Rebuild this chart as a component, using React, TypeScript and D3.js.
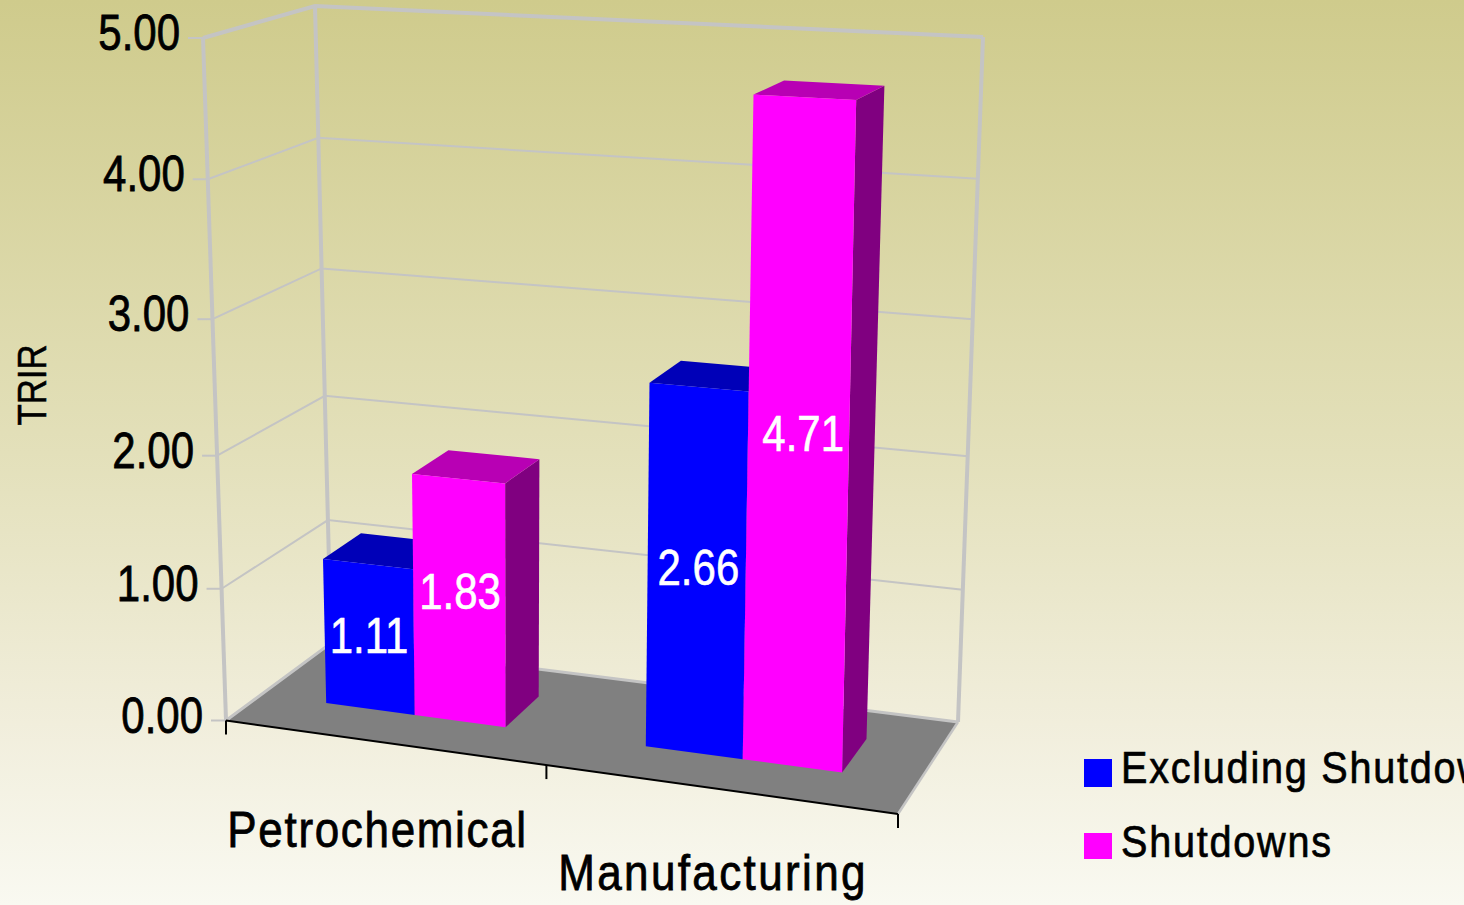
import React from "react";
import * as d3 from "d3";

const categories = ["Petrochemical", "Manufacturing"];
const categoryTracking = [1.9, 2.7];
const categoryDy = [105, 101];
const seriesNames = ["Excluding Shutdowns", "Shutdowns"];
const excludingShutdowns = [1.11, 2.66];
const shutdowns = [1.83, 4.71];
const yTicks = [0, 1, 2, 3, 4, 5];
const yTickLabels = ["0.00", "1.00", "2.00", "3.00", "4.00", "5.00"];
const yTitle = "TRIR";
const seriesValues = [excludingShutdowns, shutdowns];
const frontColors = ["#0000ff", "#ff00ff"];
const topColors = ["#0000b8", "#b800b4"];
const sideColors = ["#000080", "#800080"];
// fine placement of the value labels: [series][category]
const valueLabelDx = [[0, 2], [1, 5]];
const valueLabelDy = [[16, 13], [9, 12]];

const W = 1464;
const H = 905;
const FONT = "'Liberation Sans', sans-serif";

type Pt = [number, number];

// plane homography: unit square (u, w) to a screen quadrilateral
function quad(p00: Pt, p10: Pt, p11: Pt, p01: Pt) {
  const sx = p00[0] - p10[0] + p11[0] - p01[0];
  const sy = p00[1] - p10[1] + p11[1] - p01[1];
  const dx1 = p10[0] - p11[0];
  const dx2 = p01[0] - p11[0];
  const dy1 = p10[1] - p11[1];
  const dy2 = p01[1] - p11[1];
  const det = dx1 * dy2 - dx2 * dy1;
  const g = (sx * dy2 - dx2 * sy) / det;
  const h = (dx1 * sy - sx * dy1) / det;
  const a = p10[0] - p00[0] + g * p10[0];
  const b = p01[0] - p00[0] + h * p01[0];
  const d = p10[1] - p00[1] + g * p10[1];
  const e = p01[1] - p00[1] + h * p01[1];
  return (u: number, w: number): Pt => {
    const den = 1 + g * u + h * w;
    return [(p00[0] + a * u + b * w) / den, (p00[1] + d * u + e * w) / den];
  };
}

const floor = quad([226, 720.5], [898, 814], [958, 722], [331, 643]);
const ceil = quad([203, 38], [911, 73], [983, 37], [315, 6]);
const heightScale = d3
  .scaleLinear()
  .domain(yTicks)
  .range([0, 0.193, 0.388, 0.588, 0.793, 1]);

function project(u: number, value: number, w: number): Pt {
  const t = heightScale(value) as number;
  const a = floor(u, w);
  const b = ceil(u, w);
  return [a[0] + (b[0] - a[0]) * t, a[1] + (b[1] - a[1]) * t];
}

const categoryBand = d3.scaleBand().domain(categories).range([0, 1]);
const seriesBand = d3.scaleBand().domain(seriesNames).range([0.107, 0.393]);
const W_FRONT = 0.32;
const W_BACK = 0.692;

const poly = (pts: Pt[]) => pts.map((p) => p.map((n) => n.toFixed(1)).join(",")).join(" ");
const line = d3.line();

function Label({
  x,
  y,
  anchor = "start",
  size = 50,
  fill = "#000",
  tracking = 0,
  weight = 0.8,
  scale = 0.84,
  children,
}: any) {
  return (
    <text
      transform={`translate(${x},${y}) scale(${scale},1)`}
      textAnchor={anchor}
      fontFamily={FONT}
      fontSize={size}
      fill={fill}
      stroke={fill}
      strokeWidth={weight}
      letterSpacing={tracking}
    >
      {children}
    </text>
  );
}

export default function App() {
  const grid = "#c4c4c4";
  return (
    <svg
      width={W}
      height={H}
      viewBox={`0 0 ${W} ${H}`}
      style={{ position: "fixed", left: 0, top: 0, display: "block" }}
    >
      <defs>
        <linearGradient id="bg" x1="0" y1="0" x2="0" y2="1">
          <stop offset="0" stopColor="#cfcb8c" />
          <stop offset="0.5" stopColor="#e3e0ba" />
          <stop offset="0.8" stopColor="#f1eedc" />
          <stop offset="1" stopColor="#f9f9f1" />
        </linearGradient>
      </defs>
      <rect x={0} y={0} width={W} height={H} fill="url(#bg)" />

      {/* floor */}
      <polygon points={poly([floor(0, 0), floor(1, 0), floor(1, 1), floor(0, 1)])} fill="#808080" />

      {/* gridlines */}
      {yTicks.map((t) => {
        const last = t === 0 || t === 5;
        const a = project(0, t, 0);
        const b = project(0, t, 1);
        const c = project(1, t, 1);
        return (
          <g key={t} fill="none" stroke={grid}>
            <path d={line([a, b, c]) as string} strokeWidth={t === 0 ? 3 : last ? 4 : 2} />
            <path d={line([a, [a[0] - 15, a[1]]]) as string} strokeWidth={2} />
          </g>
        );
      })}
      {[
        [0, 0],
        [0, 1],
        [1, 1],
      ].map(([u, w], i) => (
        <path
          key={i}
          d={line([project(u, 0, w), project(u, 5, w)]) as string}
          stroke={grid}
          strokeWidth={4}
          fill="none"
        />
      ))}
      <path d={line([floor(1, 0), floor(1, 1)]) as string} stroke={grid} strokeWidth={2.5} fill="none" />

      {/* bars */}
      {categories.map((cat, ci) =>
        seriesNames.map((s, si) => {
          const v = seriesValues[si][ci];
          const off = categoryBand(cat) as number;
          const u0 = off + (seriesBand(s) as number);
          const u1 = u0 + seriesBand.bandwidth();
          const front = [project(u0, 0, W_FRONT), project(u1, 0, W_FRONT), project(u1, v, W_FRONT), project(u0, v, W_FRONT)];
          const top = [project(u0, v, W_FRONT), project(u1, v, W_FRONT), project(u1, v, W_BACK), project(u0, v, W_BACK)];
          const side = [project(u1, 0, W_FRONT), project(u1, 0, W_BACK), project(u1, v, W_BACK), project(u1, v, W_FRONT)];
          return (
            <g key={cat + s}>
              <polygon points={poly(side)} fill={sideColors[si]} />
              <polygon points={poly(top)} fill={topColors[si]} />
              <polygon points={poly(front)} fill={frontColors[si]} />
            </g>
          );
        })
      )}

      {/* value labels */}
      {categories.map((cat, ci) =>
        seriesNames.map((s, si) => {
          const v = seriesValues[si][ci];
          const um = (categoryBand(cat) as number) + (seriesBand(s) as number) + seriesBand.bandwidth() / 2;
          const p = project(um, v / 2, W_FRONT);
          return (
            <Label
              key={cat + s}
              x={p[0] + valueLabelDx[si][ci]}
              y={p[1] + valueLabelDy[si][ci]}
              anchor="middle"
              fill="#ffffff"
              weight={0.6}
            >
              {v.toFixed(2)}
            </Label>
          );
        })
      )}

      {/* x axis */}
      <path d={line([floor(0, 0), floor(1, 0)]) as string} stroke="#000" strokeWidth={2} fill="none" />
      {[0, 0.5, 1].map((u) => {
        const p = floor(u, 0);
        return <path key={u} d={line([p, [p[0], p[1] + 14]]) as string} stroke="#000" strokeWidth={2} fill="none" />;
      })}
      {categories.map((cat, i) => {
        const u = (categoryBand(cat) as number) + categoryBand.bandwidth() / 2;
        const p = floor(u, 0);
        return (
          <Label key={cat} x={p[0] - 5} y={p[1] + categoryDy[i]} anchor="middle" scale={0.88} tracking={categoryTracking[i]}>
            {cat}
          </Label>
        );
      })}

      {/* y labels */}
      {yTicks.map((t, i) => {
        const p = project(0, t, 0);
        return (
          <Label key={t} x={p[0] - 23} y={p[1] + 12} anchor="end">
            {yTickLabels[i]}
          </Label>
        );
      })}
      <text
        transform="translate(46,385) rotate(-90) scale(0.87,1)"
        textAnchor="middle"
        fontFamily={FONT}
        fontSize={40}
        fill="#000"
        stroke="#000"
        strokeWidth={0.5}
      >
        {yTitle}
      </text>

      {/* legend */}
      {seriesNames.map((s, i) => (
        <g key={s}>
          <rect x={1084} y={759 + i * 74} width={28} height={i === 0 ? 28 : 26} fill={frontColors[i]} />
          <Label x={1121} y={783 + i * 74} size={45} scale={0.88} tracking={2} weight={0.7}>
            {s}
          </Label>
        </g>
      ))}
    </svg>
  );
}
